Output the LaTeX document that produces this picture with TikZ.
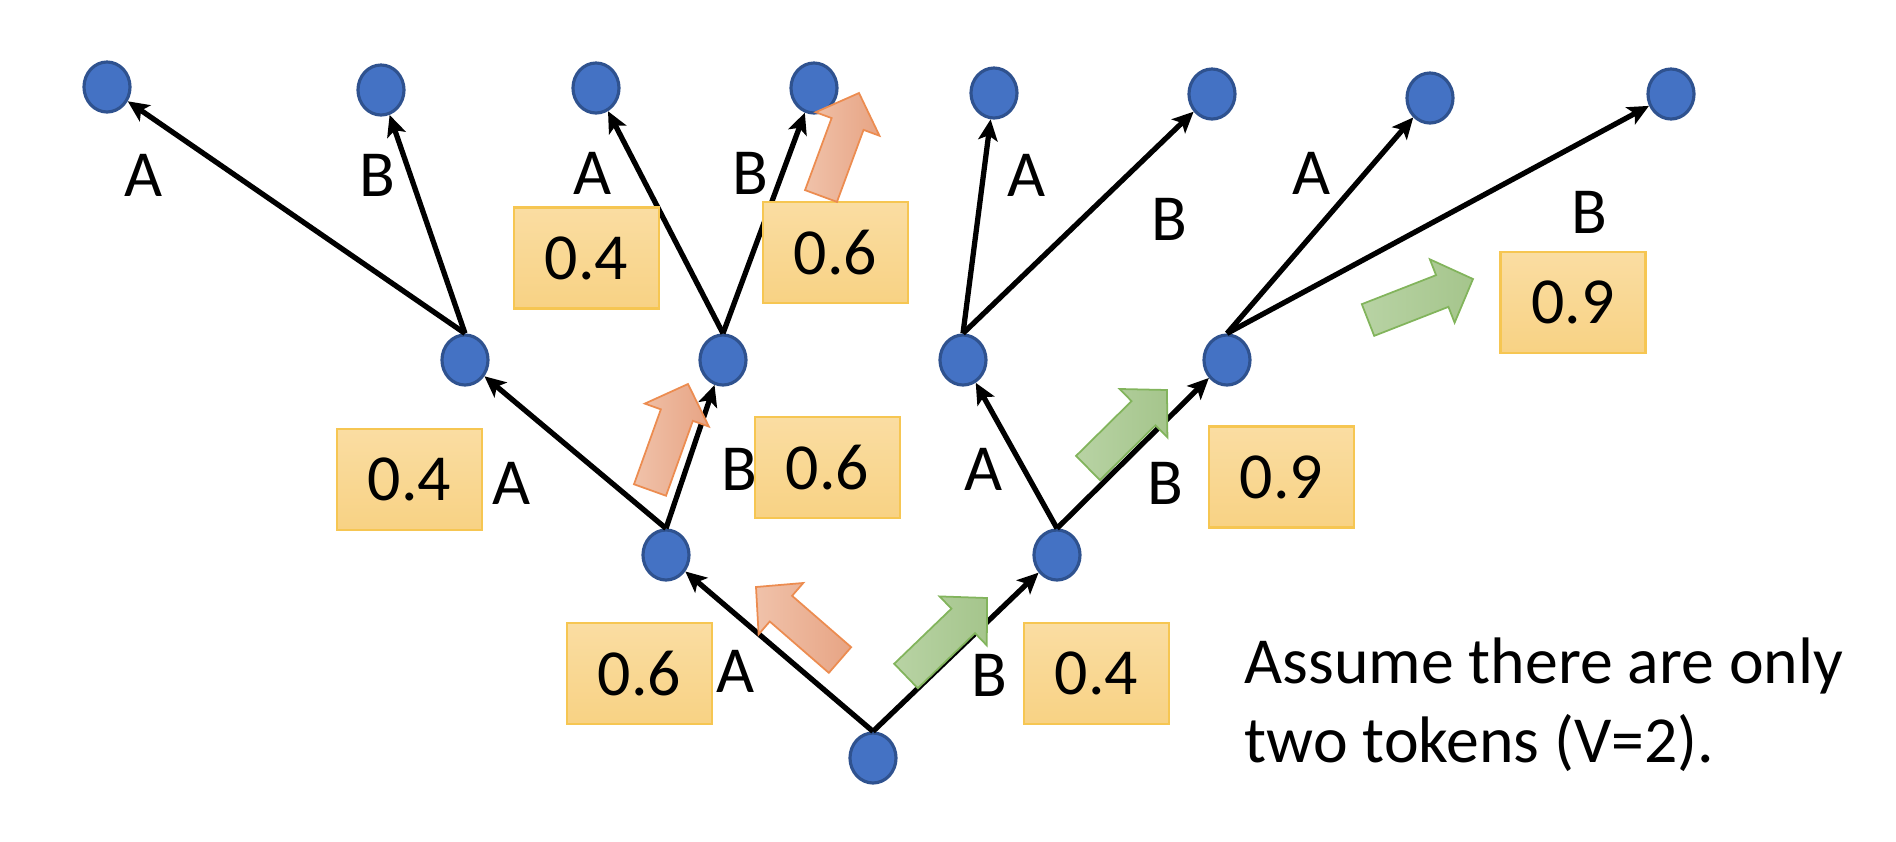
\documentclass[tikz,border=0pt]{standalone}
\usepackage{fontspec}
\setmainfont{Carlito}
\usetikzlibrary{shapes.geometric,arrows.meta,calc}
\definecolor{nodefill}{HTML}{4472C4}
\definecolor{nodedraw}{HTML}{2F528F}
\definecolor{boxtop}{RGB}{250,221,162}
\definecolor{boxbot}{RGB}{248,210,132}
\definecolor{boxdraw}{RGB}{246,198,82}
\definecolor{orL}{RGB}{240,194,170}
\definecolor{orR}{RGB}{231,164,132}
\definecolor{orD}{RGB}{236,140,80}
\definecolor{grL}{RGB}{184,211,164}
\definecolor{grR}{RGB}{165,197,140}
\definecolor{grD}{RGB}{130,180,92}
\newcommand\blockarr[3]{%
  \coordinate (bb) at ($(#3)!0.33cm!(#2)$);
  \draw[#1] ($(#2)!0.17cm!90:(#3)$) -- ($(bb)!0.17cm!90:(#3)$) -- ($(bb)!0.34cm!90:(#3)$) -- (#3)
    -- ($(bb)!0.34cm!-90:(#3)$) -- ($(bb)!0.17cm!-90:(#3)$) -- ($(#2)!0.17cm!-90:(#3)$) -- cycle;}
\tikzset{
  tok/.style={ellipse, fill=nodefill, draw=nodedraw, line width=0.9pt, minimum width=0.46cm, minimum height=0.5cm, inner sep=0pt},
  edge/.style={line width=1.5pt, -{Stealth[length=6pt,width=5.5pt,inset=1.4pt]}},
  lbl/.style={inner sep=0pt, font=\fontsize{18.7}{22.8}\selectfont},
  prob/.style={draw=boxdraw, line width=0.8pt, top color=boxtop, bottom color=boxbot, minimum width=1.45cm, minimum height=1.01cm, inner sep=0pt, font=\fontsize{18.7}{22.8}\selectfont},
  orarrow/.style={draw=orD, line width=0.5pt, left color=orL, right color=orR},
  grarrow/.style={draw=grD, line width=0.5pt, left color=grL, right color=grR},
}
\begin{document}
\begin{tikzpicture}[x=0.01cm, y=-0.01cm]
\useasboundingbox (0,0) rectangle (1896,842);
% tree nodes
\node[tok] (root) at (873,758) {};
\node[tok] (l1a) at (666,555) {};
\node[tok] (l1b) at (1057,555) {};
\node[tok] (l2a) at (465,360) {};
\node[tok] (l2b) at (723,360) {};
\node[tok] (l2c) at (963,360) {};
\node[tok] (l2d) at (1227,360) {};
\node[tok] (a1) at (107,87) {};
\node[tok] (a2) at (381,90) {};
\node[tok] (a3) at (596,88) {};
\node[tok] (a4) at (814,88) {};
\node[tok] (a5) at (994,93) {};
\node[tok] (a6) at (1212,94) {};
\node[tok] (a7) at (1430,98) {};
\node[tok] (a8) at (1671,94) {};
% edges
\draw[edge] (root.north) -- (l1a);
\draw[edge] (root.north) -- (l1b);
\draw[edge] (l1a.north) -- (l2a);
\draw[edge] (l1a.north) -- (l2b);
\draw[edge] (l1b.north) -- (l2c);
\draw[edge] (l1b.north) -- (l2d);
\draw[edge] (l2a.north) -- (a1);
\draw[edge] (l2a.north) -- (a2);
\draw[edge] (l2b.north) -- (a3);
\draw[edge] (l2b.north) -- (a4);
\draw[edge] (l2c.north) -- (a5);
\draw[edge] (l2c.north) -- (a6);
\draw[edge] (l2d.north) -- (a7);
\draw[edge] (l2d.north) -- (a8);
% edge labels
\node[lbl] (t1) at (144,175) {A};
\node[lbl] (t2) at (377,175) {B};
\node[lbl] (t3) at (593,173) {A};
\node[lbl] (t4) at (750,173) {B};
\node[lbl] (t5) at (1027,175) {A};
\node[lbl] (t6) at (1169,219) {B};
\node[lbl] (t7) at (1312,173) {A};
\node[lbl] (t8) at (1589,212) {B};
\node[lbl] (m1) at (512,483) {A};
\node[lbl] (m2) at (739,469) {B};
\node[lbl] (m3) at (984,469) {A};
\node[lbl] (m4) at (1165,483) {B};
\node[lbl] (b1) at (736,671) {A};
\node[lbl] (b2) at (989,675) {B};
% probability boxes
\node[prob] (p1) at (586.5,258) {0.4};
\node[prob] (p2) at (835.5,252.5) {0.6};
\node[prob] (p3) at (1573,302.5) {0.9};
\node[prob] (p4) at (409.5,479.5) {0.4};
\node[prob] (p5) at (827.5,467.5) {0.6};
\node[prob] (p6) at (1281.5,477) {0.9};
\node[prob] (p7) at (639.5,673.5) {0.6};
\node[prob] (p8) at (1096.5,673.5) {0.4};
% block arrows
\coordinate (o1t) at (821,196); \coordinate (o1p) at (859,93);
\coordinate (o2t) at (650,490); \coordinate (o2p) at (688,384);
\coordinate (o3t) at (840,660); \coordinate (o3p) at (756,587);
\coordinate (g1t) at (906,676); \coordinate (g1p) at (987,598);
\coordinate (g2t) at (1088,468); \coordinate (g2p) at (1167,390);
\coordinate (g3t) at (1368,320); \coordinate (g3p) at (1473,279);
\blockarr{orarrow}{o1t}{o1p}
\blockarr{orarrow}{o2t}{o2p}
\blockarr{orarrow}{o3t}{o3p}
\blockarr{grarrow}{g1t}{g1p}
\blockarr{grarrow}{g2t}{g2p}
\blockarr{grarrow}{g3t}{g3p}
% note
\node[lbl, anchor=base west] (n1) at (1244,683) {Assume there are only};
\node[lbl, anchor=base west] (n2) at (1244,762) {two tokens (V=2).};
\end{tikzpicture}
\end{document}
